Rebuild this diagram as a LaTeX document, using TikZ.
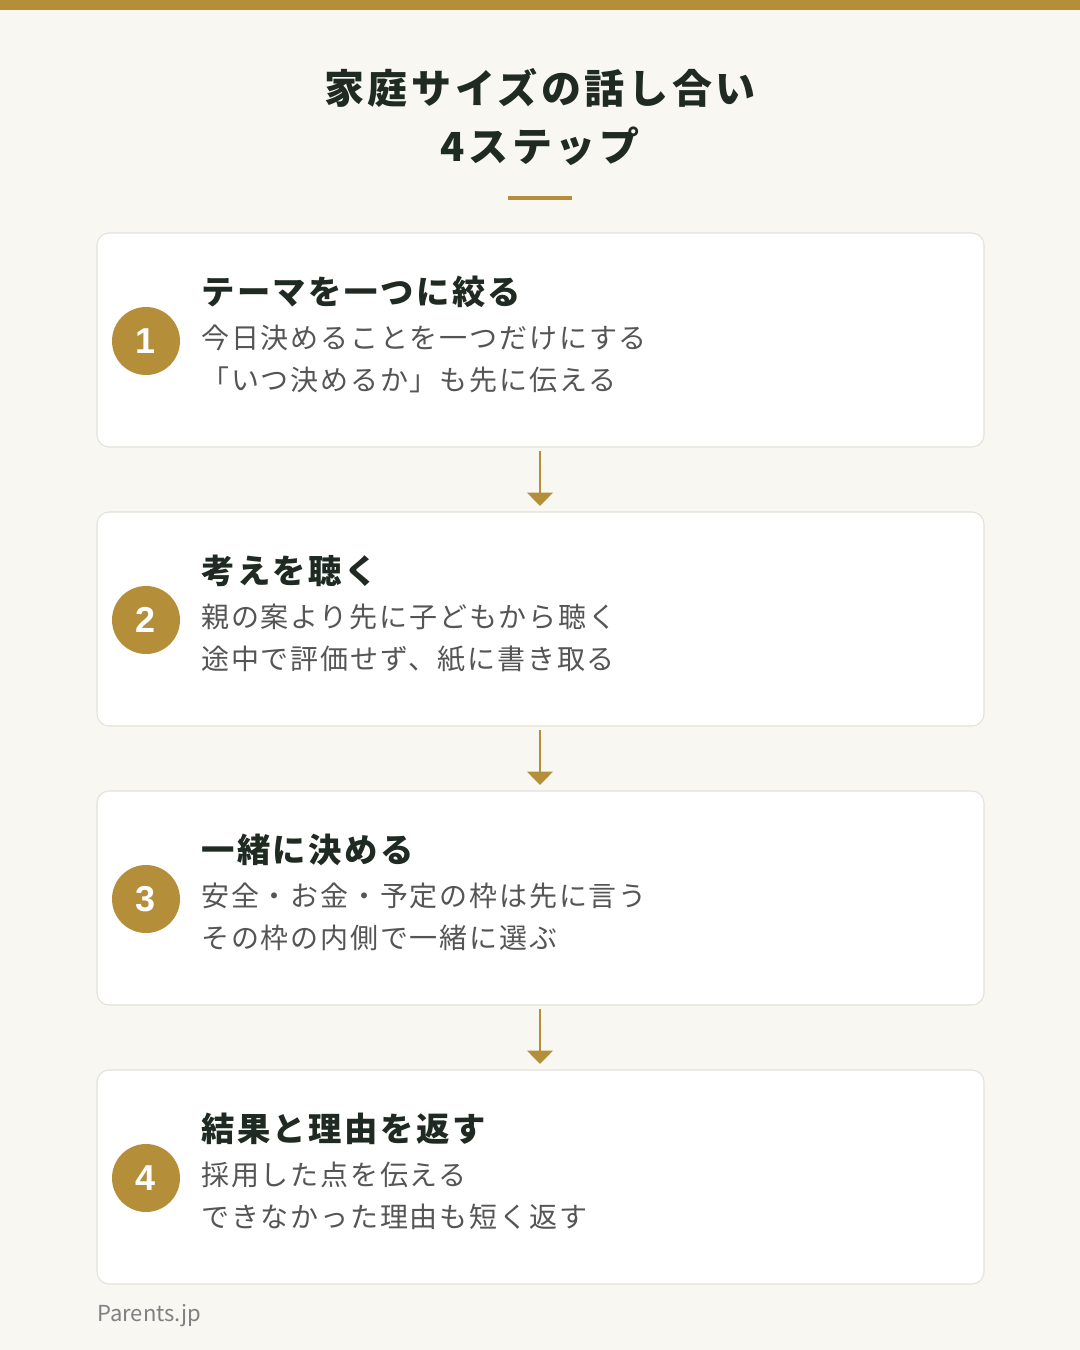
\documentclass[tikz,border=0pt]{standalone}
\usepackage{fontspec}
\setmainfont{Noto Sans CJK JP}
\newfontfamily\cjk{Noto Sans CJK JP}
\newfontfamily\cjkhead[LetterSpace=7.5]{Noto Sans CJK JP}
\newfontfamily\cjkbody[LetterSpace=6.5]{Noto Sans CJK JP}
\newfontfamily\cjktitle[LetterSpace=9]{Noto Sans CJK JP}
\newfontfamily\numfont{Liberation Sans}
\usetikzlibrary{positioning,arrows.meta}
\definecolor{bgcol}{HTML}{F8F7F2}
\definecolor{gold}{HTML}{B58E3A}
\definecolor{ink}{HTML}{1F2A22}
\definecolor{txtgray}{HTML}{555555}
\definecolor{edgegray}{HTML}{E3E1DA}

\begin{document}
\begin{tikzpicture}[x=0.75pt,y=-0.75pt,
  card/.style={draw=edgegray, fill=white, rounded corners=9pt, line width=0.8pt},
  badge/.style={circle, fill=gold, minimum size=51pt, inner sep=0pt, text=white, font=\numfont\bfseries\fontsize{27}{27}\selectfont},
  head/.style={anchor=west, inner sep=0pt, text=ink, font=\cjkhead\bfseries\fontsize{25}{25}\selectfont},
  body/.style={anchor=west, inner sep=0pt, text=txtgray, font=\cjkbody\fontsize{21}{21}\selectfont},
  flow/.style={-{Triangle[width=19pt,length=10pt]}, draw=gold, line width=2pt}]

\fill[bgcol] (0,0) rectangle (1080,1350);
\useasboundingbox (0,0) rectangle (1080,1350);
\fill[gold] (0,0) rectangle (1080,10);

\node[text=ink, font=\cjktitle\bfseries\fontsize{30}{30}\selectfont] (title1) at (540,88) {家庭サイズの話し合い};
\node[text=ink, font=\cjktitle\bfseries\fontsize{30}{30}\selectfont] (title2) at (540,146) {4ステップ};
\draw[gold, line width=3pt] (508,198) -- (572,198);

\foreach \i/\y/\h/\a/\b in {
  1/233/テーマを一つに絞る/今日決めることを一つだけにする/「いつ決めるか」も先に伝える,
  2/512/考えを聴く/親の案より先に子どもから聴く/途中で評価せず、紙に書き取る,
  3/791/一緒に決める/安全・お金・予定の枠は先に言う/その枠の内側で一緒に選ぶ,
  4/1070/結果と理由を返す/採用した点を伝える/できなかった理由も短く返す} {
  \draw[card] (97,\y) rectangle (984,\y+214);
  \node[badge] (n\i) at (146,\y+108) {\i};
  \node[head] (h\i) at (201,\y+59) {\h};
  \node[body] (a\i) at (201,\y+105) {\a};
  \node[body] (b\i) at (201,\y+147) {\b};
  \coordinate (top\i) at (540,\y-6);
  \coordinate (bot\i) at (540,\y+218);
}

\foreach \i/\j in {1/2,2/3,3/4}
  \draw[flow] (bot\i) -- (top\j);

\node[anchor=west, inner sep=0pt, text=gray, font=\cjk\fontsize{16.5}{16.5}\selectfont] (site) at (97,1316) {Parents.jp};

\end{tikzpicture}
\end{document}
